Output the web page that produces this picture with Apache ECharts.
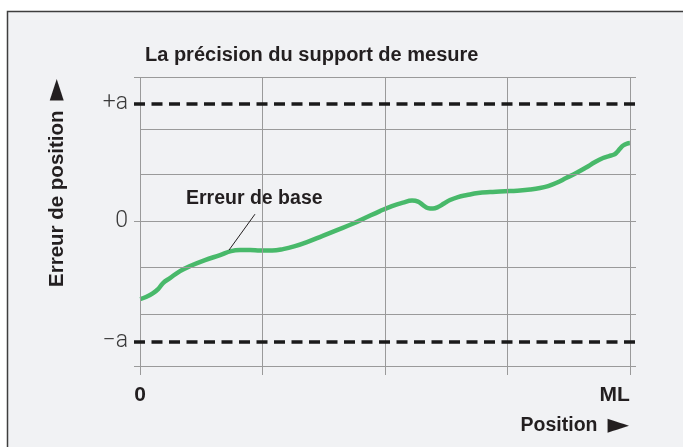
<!DOCTYPE html>
<html>
<head>
<meta charset="utf-8">
<script src="https://cdn.jsdelivr.net/npm/echarts@6/dist/echarts.min.js"></script>
<style>
  html, body { margin: 0; padding: 0; background: #fff; }
  #chart { width: 683px; height: 447px; }
</style>
</head>
<body>
<div id="chart"></div>
<script>
// x in grid cells (0 .. 4 = ML), y in grid steps around 0
const positionX = [0, 0.048, 0.106, 0.147, 0.187, 0.244, 0.326, 0.408, 0.530, 0.653, 0.743, 0.816,
  0.898, 0.980, 1.078, 1.167, 1.265, 1.363, 1.486, 1.608, 1.731, 1.853, 1.959, 2.057, 2.147,
  2.221, 2.270, 2.310, 2.351, 2.392, 2.433, 2.482, 2.531, 2.596, 2.670, 2.760, 2.858, 2.939,
  3.021, 3.103, 3.185, 3.266, 3.332, 3.397, 3.479, 3.569, 3.642, 3.716, 3.781, 3.830, 3.871,
  3.896, 3.920, 3.945, 3.977, 4.0];
const errorY = [-1.667, -1.624, -1.539, -1.454, -1.326, -1.220, -1.071, -0.964, -0.837, -0.730,
  -0.645, -0.624, -0.624, -0.634, -0.634, -0.603, -0.539, -0.453, -0.326, -0.198, -0.070, 0.079,
  0.206, 0.313, 0.387, 0.430, 0.409, 0.334, 0.270, 0.260, 0.292, 0.366, 0.441, 0.505, 0.547,
  0.590, 0.611, 0.621, 0.632, 0.643, 0.664, 0.696, 0.739, 0.803, 0.909, 1.026, 1.133, 1.250,
  1.335, 1.378, 1.409, 1.463, 1.537, 1.601, 1.644, 1.654];

const xGridValues = [0, 1, 2, 3, 4];
const yGridValues = [3.06, 1.95, 1.0, 0, -1.0, -2.0, -3.1];
const yGridWithTick = [3.06, 0, -3.1];
const limitValues = [2.5, -2.57];
const yTickValues = [2.5, 0, -2.57];
const yTickLabels = ['+a', '0', '−a'];
const xTickValues = [0, 4];
const xTickLabels = ['0', 'ML'];
const leaderLine = [[0.938, 0.140], [0.726, -0.624]];

const FONT = "'Liberation Sans', Arial, Helvetica, sans-serif";
const GRID_COLOR = '#9a9a9a';
const TEXT = '#231f20';

const chart = echarts.init(document.getElementById('chart'));

const gridLines = [];
xGridValues.forEach(v => gridLines.push({ xAxis: v }));
yGridValues.forEach(v => {
  const x0 = yGridWithTick.includes(v) ? -0.05 : 0;
  gridLines.push([{ coord: [x0, v] }, { coord: [4.05, v] }]);
});

function arrowRich(size, gap) {
  return {
    t: { fontFamily: FONT, fontSize: size, fontWeight: 'bold', fill: TEXT },
    a: { fontFamily: "'DejaVu Sans', sans-serif", fontSize: 28, fill: TEXT, padding: [0, 0, 0, gap] }
  };
}

const option = {
  backgroundColor: '#ffffff',
  animation: false,
  title: {
    text: 'La précision du support de mesure',
    left: 140,
    top: 40,
    textStyle: { fontFamily: FONT, fontSize: 20, fontWeight: 'bold', color: TEXT }
  },
  grid: { left: 134, right: 47, top: 77, bottom: 72 },
  xAxis: {
    type: 'value',
    min: -0.05,
    max: 4.05,
    axisLine: { show: false },
    axisTick: { show: false },
    splitLine: { show: false },
    axisLabel: {
      customValues: xTickValues,
      formatter: v => xTickLabels[xTickValues.indexOf(v)],
      alignMaxLabel: 'right',
      margin: 10,
      fontFamily: FONT,
      fontSize: 21,
      fontWeight: 'bold',
      color: TEXT
    }
  },
  yAxis: {
    type: 'value',
    min: -3.283,
    max: 3.06,
    axisLine: { show: false },
    axisTick: { show: false },
    splitLine: { show: false },
    axisLabel: {
      customValues: yTickValues,
      formatter: v => yTickLabels[yTickValues.indexOf(v)],
      margin: 6,
      fontFamily: "Roboto, 'Liberation Sans', sans-serif",
      fontSize: 23,
      fontWeight: 300,
      color: '#3a3a3a'
    }
  },
  graphic: [
    {
      type: 'rect',
      z: -10,
      shape: { x: 7.5, y: 11.5, width: 700, height: 460 },
      style: { fill: '#f1f2f4', stroke: '#3e3e3e', lineWidth: 1.5 }
    },
    {
      type: 'text',
      x: 57,
      y: 287,
      rotation: Math.PI / 2,
      style: {
        text: '{t|Erreur de position}{a|►}',
        rich: arrowRich(20.5, 10),
        align: 'left', verticalAlign: 'middle'
      }
    },
    {
      type: 'text',
      x: 629,
      y: 426,
      style: {
        text: '{t|Position}{a|►}',
        rich: arrowRich(19.5, 10),
        align: 'right', verticalAlign: 'middle'
      }
    },
    {
      type: 'text',
      x: 186,
      y: 199,
      style: {
        text: 'Erreur de base',
        fontFamily: FONT, fontSize: 19.5, fontWeight: 'bold',
        fill: TEXT, align: 'left', verticalAlign: 'middle'
      }
    }
  ],
  series: [
    {
      type: 'line',
      data: [],
      z: 1,
      silent: true,
      markLine: {
        silent: true,
        symbol: 'none',
        label: { show: false },
        lineStyle: { color: GRID_COLOR, width: 1, type: 'solid' },
        data: gridLines
      }
    },
    {
      type: 'line',
      data: [],
      z: 3,
      silent: true,
      markLine: {
        silent: true,
        symbol: 'none',
        label: { show: false },
        lineStyle: { color: '#1a1a1a', width: 3.5, type: [11, 6.5] },
        data: limitValues.map(v => [{ coord: [-0.05, v] }, { coord: [4.05, v] }])
      }
    },
    {
      name: 'Erreur de base',
      type: 'line',
      z: 4,
      data: positionX.map((x, i) => [x, errorY[i]]),
      smooth: 0.4,
      showSymbol: false,
      lineStyle: { color: '#48b96a', width: 4.5 },
      markLine: {
        silent: true,
        symbol: 'none',
        label: { show: false },
        lineStyle: { color: TEXT, width: 1, type: 'solid' },
        data: [[{ coord: leaderLine[0] }, { coord: leaderLine[1] }]]
      }
    }
  ]
};

chart.setOption(option);
</script>
</body>
</html>
